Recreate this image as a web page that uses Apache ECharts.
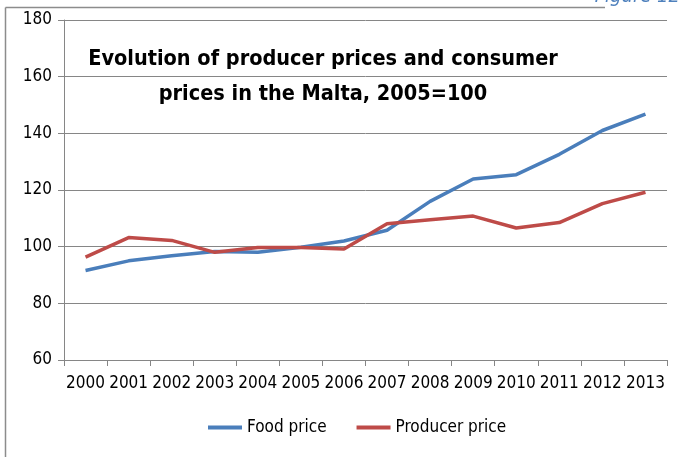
<!DOCTYPE html>
<html>
<head>
<meta charset="utf-8">
<script src="https://cdn.jsdelivr.net/npm/echarts@6/dist/echarts.min.js"></script>
<style>
  html, body { margin: 0; padding: 0; background: #fff; }
  #chart { width: 682px; height: 457px; }
</style>
</head>
<body>
<div id="chart"></div>
<script>
// values
const years = ['2000', '2001', '2002', '2003', '2004', '2005', '2006',
  '2007', '2008', '2009', '2010', '2011', '2012', '2013'];
const foodPrice = [91.6, 95, 96.8, 98.3, 98, 99.8, 102, 105.8, 116, 123.9, 125.4, 132.6, 141, 146.8];
const producerPrice = [96.3, 103.2, 102.2, 98, 99.7, 99.7, 99.2, 108.1, 109.5, 110.8, 106.6, 108.5, 115.2, 119.2];

const FONT = "'Liberation Sans Narrow', 'DejaVu Sans Condensed', sans-serif";

const chart = echarts.init(document.getElementById('chart'));

const option = {
  animation: false,
  color: ['#4a7ebb', '#be4b48'],
  graphic: [
    // outer frame (left and top edges visible)
    { type: 'line', shape: { x1: 5.5, y1: 7.5, x2: 5.5, y2: 457 }, style: { stroke: '#8c8c8c', lineWidth: 1.5 } },
    { type: 'line', shape: { x1: 5.5, y1: 7.5, x2: 605, y2: 7.5 }, style: { stroke: '#8c8c8c', lineWidth: 1.5 } },
    {
      type: 'text', right: 2, top: -13,
      style: { text: 'Figure 12', fill: '#4f81bd', font: 'italic 20px ' + FONT }
    }
  ],
  title: {
    text: 'Evolution of producer prices and consumer\nprices in the Malta, 2005=100',
    left: 318, top: 37,
    textAlign: 'center',
    textStyle: { fontFamily: FONT, fontSize: 21.5, fontWeight: 'bold', color: '#000', lineHeight: 35, align: 'center' }
  },
  legend: {
    bottom: 16,
    left: 203,
    itemWidth: 34,
    itemHeight: 4,
    itemGap: 30,
    icon: 'rect',
    textStyle: { fontFamily: FONT, fontSize: 17, color: '#000' },
    data: ['Food price', 'Producer price']
  },
  grid: { left: 64, right: 15, top: 20, bottom: 97 },
  xAxis: {
    type: 'category',
    data: years,
    boundaryGap: true,
    axisLine: { lineStyle: { color: '#868686' } },
    axisTick: { show: true, length: 6, lineStyle: { color: '#868686' } },
    axisLabel: { fontFamily: FONT, fontSize: 17, color: '#000', margin: 15, interval: 0 }
  },
  yAxis: {
    type: 'value',
    min: 60, max: 180, interval: 20,
    axisLine: { show: true, lineStyle: { color: '#868686' } },
    axisTick: { show: true, length: 6, lineStyle: { color: '#868686' } },
    axisLabel: { fontFamily: FONT, fontSize: 17, color: '#000', margin: 12 },
    splitLine: { lineStyle: { color: '#868686' } }
  },
  series: [
    {
      name: 'Food price', type: 'line', data: foodPrice,
      symbol: 'none', lineStyle: { width: 3.5 }
    },
    {
      name: 'Producer price', type: 'line', data: producerPrice,
      symbol: 'none', lineStyle: { width: 3.5 }
    }
  ]
};

chart.setOption(option);
</script>
</body>
</html>
